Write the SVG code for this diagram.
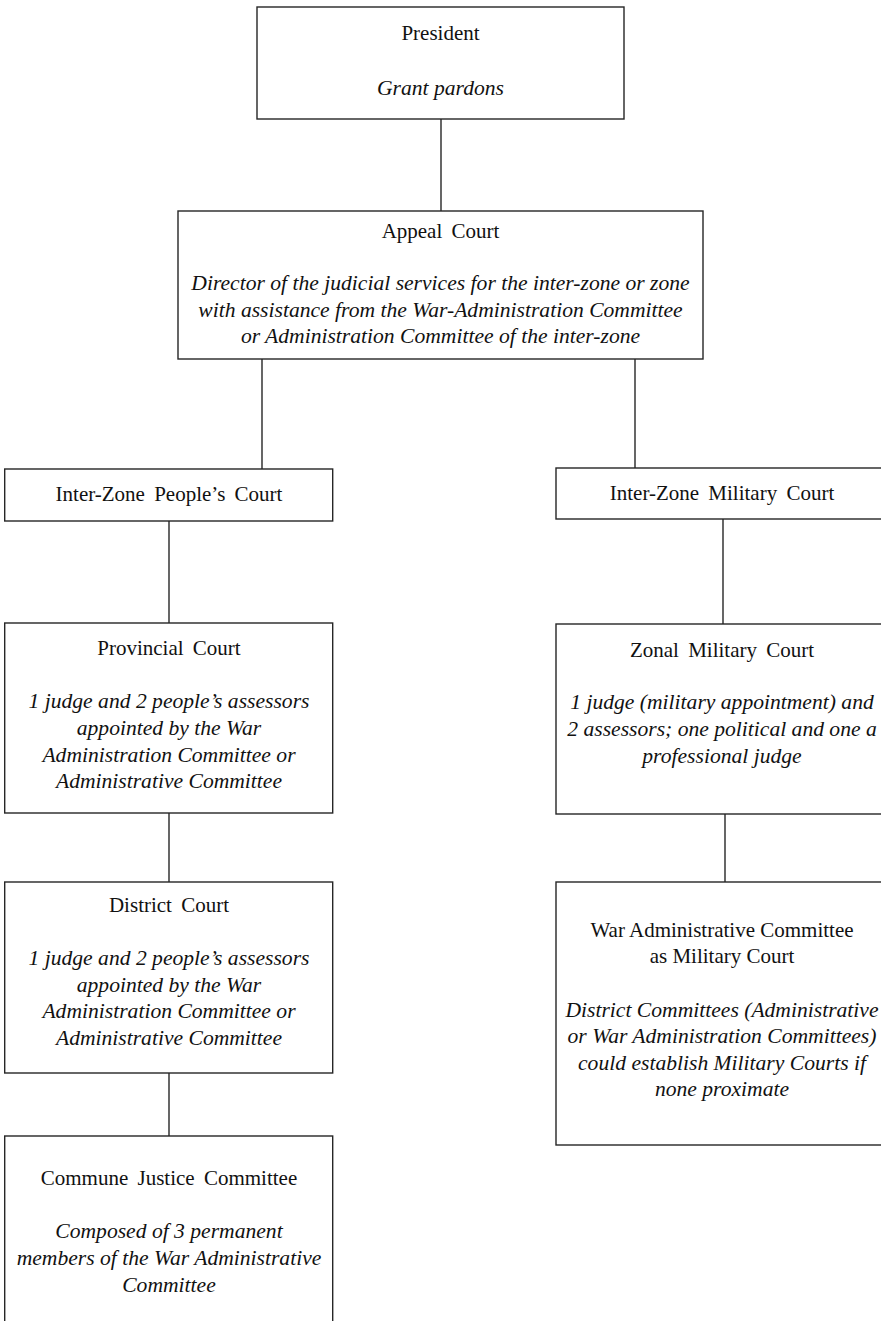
<svg xmlns="http://www.w3.org/2000/svg" width="881" height="1321" viewBox="0 0 881 1321">
<style>
  .box { fill: #ffffff; stroke: #262626; stroke-width: 1.4; }
  .edge { stroke: #262626; stroke-width: 1.4; fill: none; }
  text { font-family: "Liberation Serif", "Times New Roman", serif; font-size: 21px; fill: #111; text-anchor: middle; }
  .t { word-spacing: 4px; }
  .d { font-style: italic; font-size: 21.6px; }
</style>
<rect width="881" height="1321" fill="#ffffff"/>
<g id="connectors">
  <line class="edge" x1="441" y1="119" x2="441" y2="211"/>
  <line class="edge" x1="262" y1="359" x2="262" y2="469"/>
  <line class="edge" x1="635" y1="359" x2="635" y2="468"/>
  <line class="edge" x1="169" y1="521" x2="169" y2="623"/>
  <line class="edge" x1="723" y1="519" x2="723" y2="624"/>
  <line class="edge" x1="169" y1="813" x2="169" y2="882"/>
  <line class="edge" x1="725" y1="814" x2="725" y2="882"/>
  <line class="edge" x1="169" y1="1073" x2="169" y2="1136"/>
</g>
<g id="president">
  <rect class="box" x="257" y="7" width="367" height="112"/>
  <text class="t" x="440.5" y="40">President</text>
  <text class="d" x="440.5" y="95">Grant pardons</text>
</g>
<g id="appeal-court">
  <rect class="box" x="178" y="211" width="525" height="148"/>
  <text class="t" x="440.5" y="238">Appeal Court</text>
  <text class="d" x="440.5" y="290">Director of the judicial services for the inter-zone or zone</text>
  <text class="d" x="440.5" y="317">with assistance from the War-Administration Committee</text>
  <text class="d" x="440.5" y="343">or Administration Committee of the inter-zone</text>
</g>
<g id="inter-zone-peoples-court">
  <rect class="box" x="4.7" y="469" width="328" height="52"/>
  <text class="t" x="169" y="501">Inter-Zone People’s Court</text>
</g>
<g id="inter-zone-military-court">
  <rect class="box" x="556" y="468" width="332" height="51"/>
  <text class="t" x="722" y="500">Inter-Zone Military Court</text>
</g>
<g id="provincial-court">
  <rect class="box" x="4.7" y="623" width="328" height="190"/>
  <text class="t" x="169" y="655">Provincial Court</text>
  <text class="d" x="169" y="708">1 judge and 2 people’s assessors</text>
  <text class="d" x="169" y="735">appointed by the War</text>
  <text class="d" x="169" y="762">Administration Committee or</text>
  <text class="d" x="169" y="788">Administrative Committee</text>
</g>
<g id="zonal-military-court">
  <rect class="box" x="556" y="624" width="332" height="190"/>
  <text class="t" x="722" y="657">Zonal Military Court</text>
  <text class="d" x="722" y="709">1 judge (military appointment) and</text>
  <text class="d" x="722" y="736">2 assessors; one political and one a</text>
  <text class="d" x="722" y="763">professional judge</text>
</g>
<g id="district-court">
  <rect class="box" x="4.7" y="882" width="328" height="191"/>
  <text class="t" x="169" y="912">District Court</text>
  <text class="d" x="169" y="965">1 judge and 2 people’s assessors</text>
  <text class="d" x="169" y="992">appointed by the War</text>
  <text class="d" x="169" y="1018">Administration Committee or</text>
  <text class="d" x="169" y="1045">Administrative Committee</text>
</g>
<g id="war-administrative-committee">
  <rect class="box" x="556" y="882" width="332" height="263"/>
  <text x="722" y="937">War Administrative Committee</text>
  <text x="722" y="963">as Military Court</text>
  <text class="d" x="722" y="1017">District Committees (Administrative</text>
  <text class="d" x="722" y="1043">or War Administration Committees)</text>
  <text class="d" x="722" y="1070">could establish Military Courts if</text>
  <text class="d" x="722" y="1096">none proximate</text>
</g>
<g id="commune-justice-committee">
  <rect class="box" x="4.7" y="1136" width="328" height="200"/>
  <text class="t" x="169" y="1185">Commune Justice Committee</text>
  <text class="d" x="169" y="1238">Composed of 3 permanent</text>
  <text class="d" x="169" y="1265">members of the War Administrative</text>
  <text class="d" x="169" y="1292">Committee</text>
</g>
</svg>
